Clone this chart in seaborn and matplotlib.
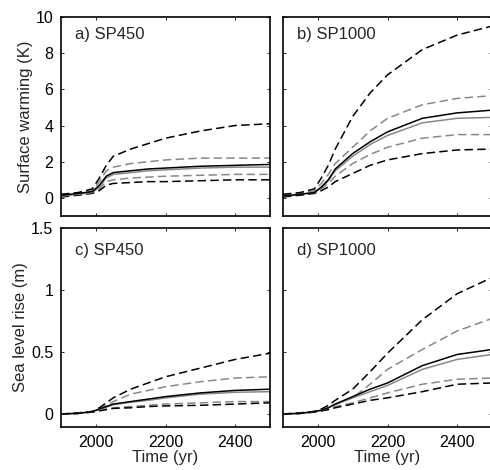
import numpy as np
import pandas as pd
import seaborn as sns
import matplotlib
matplotlib.use('Agg')
import matplotlib.pyplot as plt

years = [1900, 1950, 1990, 2010, 2030, 2050, 2100, 2150, 2200, 2300, 2400, 2500]

# a) SP450 surface warming (K)
a_black = [0.15, 0.25, 0.35, 0.7, 1.2, 1.4, 1.5, 1.6, 1.65, 1.75, 1.8, 1.85]
a_gray = [0.1, 0.2, 0.3, 0.6, 1.1, 1.3, 1.4, 1.5, 1.55, 1.65, 1.7, 1.7]
a_black_hi = [0.2, 0.3, 0.5, 1.1, 1.8, 2.3, 2.7, 3.0, 3.3, 3.7, 4.0, 4.1]
a_gray_hi = [0.15, 0.25, 0.4, 0.9, 1.5, 1.7, 1.9, 2.0, 2.1, 2.2, 2.2, 2.2]
a_gray_lo = [0.1, 0.2, 0.3, 0.5, 0.9, 1.0, 1.1, 1.15, 1.2, 1.25, 1.3, 1.3]
a_black_lo = [0.05, 0.15, 0.25, 0.4, 0.7, 0.8, 0.85, 0.9, 0.9, 0.95, 1.0, 1.0]

# b) SP1000 surface warming (K)
b_black = [0.1, 0.2, 0.3, 0.6, 1.0, 1.6, 2.45, 3.1, 3.65, 4.4, 4.7, 4.85]
b_gray = [0.1, 0.2, 0.3, 0.55, 0.95, 1.5, 2.3, 2.95, 3.45, 4.15, 4.4, 4.45]
b_black_hi = [0.2, 0.3, 0.5, 1.1, 1.8, 2.7, 4.5, 5.8, 6.8, 8.2, 9.0, 9.5]
b_gray_hi = [0.15, 0.25, 0.4, 0.8, 1.3, 1.9, 2.8, 3.7, 4.4, 5.15, 5.5, 5.65]
b_gray_lo = [0.1, 0.2, 0.3, 0.5, 0.8, 1.2, 1.9, 2.4, 2.8, 3.3, 3.5, 3.5]
b_black_lo = [0.05, 0.15, 0.25, 0.4, 0.6, 0.9, 1.35, 1.8, 2.1, 2.45, 2.65, 2.7]

# c) SP450 sea level rise (m)
c_black = [0, 0.005, 0.02, 0.04, 0.06, 0.08, 0.1, 0.12, 0.14, 0.17, 0.19, 0.2]
c_gray = [0, 0.005, 0.02, 0.035, 0.055, 0.075, 0.095, 0.11, 0.13, 0.16, 0.175, 0.18]
c_black_hi = [0, 0.01, 0.02, 0.05, 0.09, 0.13, 0.2, 0.25, 0.3, 0.37, 0.44, 0.49]
c_gray_hi = [0, 0.005, 0.02, 0.04, 0.07, 0.1, 0.16, 0.19, 0.22, 0.26, 0.29, 0.3]
c_gray_lo = [0, 0.005, 0.015, 0.03, 0.04, 0.05, 0.06, 0.07, 0.08, 0.09, 0.1, 0.1]
c_black_lo = [0, 0.005, 0.015, 0.025, 0.035, 0.045, 0.05, 0.06, 0.065, 0.07, 0.08, 0.09]

# d) SP1000 sea level rise (m)
d_black = [0, 0.005, 0.02, 0.03, 0.05, 0.08, 0.14, 0.2, 0.25, 0.39, 0.48, 0.52]
d_gray = [0, 0.005, 0.02, 0.03, 0.05, 0.075, 0.13, 0.18, 0.23, 0.36, 0.44, 0.48]
d_black_hi = [0, 0.01, 0.02, 0.04, 0.07, 0.11, 0.2, 0.34, 0.49, 0.76, 0.97, 1.1]
d_gray_hi = [0, 0.005, 0.02, 0.03, 0.05, 0.08, 0.13, 0.24, 0.36, 0.52, 0.67, 0.77]
d_gray_lo = [0, 0.005, 0.015, 0.025, 0.04, 0.06, 0.09, 0.13, 0.17, 0.24, 0.28, 0.29]
d_black_lo = [0, 0.005, 0.015, 0.025, 0.035, 0.05, 0.08, 0.11, 0.13, 0.18, 0.24, 0.25]

panel_labels = ['a) SP450', 'b) SP1000', 'c) SP450', 'd) SP1000']

sns.set_style('white')
plt.rcParams['font.family'] = ['Liberation Sans', 'DejaVu Sans']
plt.rcParams['font.size'] = 11


def draw_panel(ax, black, gray, black_hi, gray_hi, gray_lo, black_lo):
    dash = (0, (5.5, 2.8))
    sns.lineplot(x=years, y=gray_lo, ax=ax, color='#888888', lw=1.1, linestyle=dash)
    sns.lineplot(x=years, y=gray_hi, ax=ax, color='#888888', lw=1.1, linestyle=dash)
    sns.lineplot(x=years, y=black_lo, ax=ax, color='black', lw=1.1, linestyle=dash)
    sns.lineplot(x=years, y=black_hi, ax=ax, color='black', lw=1.1, linestyle=dash)
    sns.lineplot(x=years, y=gray, ax=ax, color='#888888', lw=1.1)
    sns.lineplot(x=years, y=black, ax=ax, color='black', lw=1.1)


fig = plt.figure(figsize=(4.9, 4.7), dpi=100)
W, H = 490.0, 470.0
pos = [
    (61, 17, 209, 199),
    (283, 17, 209, 199),
    (61, 228, 209, 199),
    (283, 228, 209, 199),
]
axes = [fig.add_axes([x / W, 1 - (y + h) / H, w / W, h / H]) for x, y, w, h in pos]

data = [
    (a_black, a_gray, a_black_hi, a_gray_hi, a_gray_lo, a_black_lo),
    (b_black, b_gray, b_black_hi, b_gray_hi, b_gray_lo, b_black_lo),
    (c_black, c_gray, c_black_hi, c_gray_hi, c_gray_lo, c_black_lo),
    (d_black, d_gray, d_black_hi, d_gray_hi, d_gray_lo, d_black_lo),
]

for i, ax in enumerate(axes):
    draw_panel(ax, *data[i])
    ax.set_xlim(1900, 2500)
    ax.set_xticks([2000, 2200, 2400])
    if i < 2:
        ax.set_ylim(-1, 10)
        ax.set_yticks([0, 2, 4, 6, 8, 10])
        ax.set_xticklabels([])
    else:
        ax.set_ylim(-0.105, 1.5)
        ax.set_yticks([0, 0.5, 1, 1.5])
        ax.set_yticklabels(['0', '0.5', '1', '1.5'])
        ax.set_xlabel('Time (yr)', fontsize=12, labelpad=0.5)
    if i % 2 == 1:
        ax.set_yticklabels([])
    for s in ax.spines.values():
        s.set_color('black')
        s.set_linewidth(1.2)
    ax.tick_params(direction='in', length=2.5, width=0.6, top=True, right=True,
                   bottom=True, left=True, labelsize=11.5, pad=5.5, colors='black')
    ax.set_ylabel('')
    ty = 0.91 if i < 2 else 0.885
    ax.text(0.065, ty, panel_labels[i], transform=ax.transAxes, fontsize=12, va='center', ha='left')

axes[0].set_ylabel('Surface warming (K)', fontsize=12, labelpad=2)
axes[2].set_ylabel('Sea level rise (m)', fontsize=12, labelpad=2)

fig.savefig('out.png', dpi=100, facecolor='white')
